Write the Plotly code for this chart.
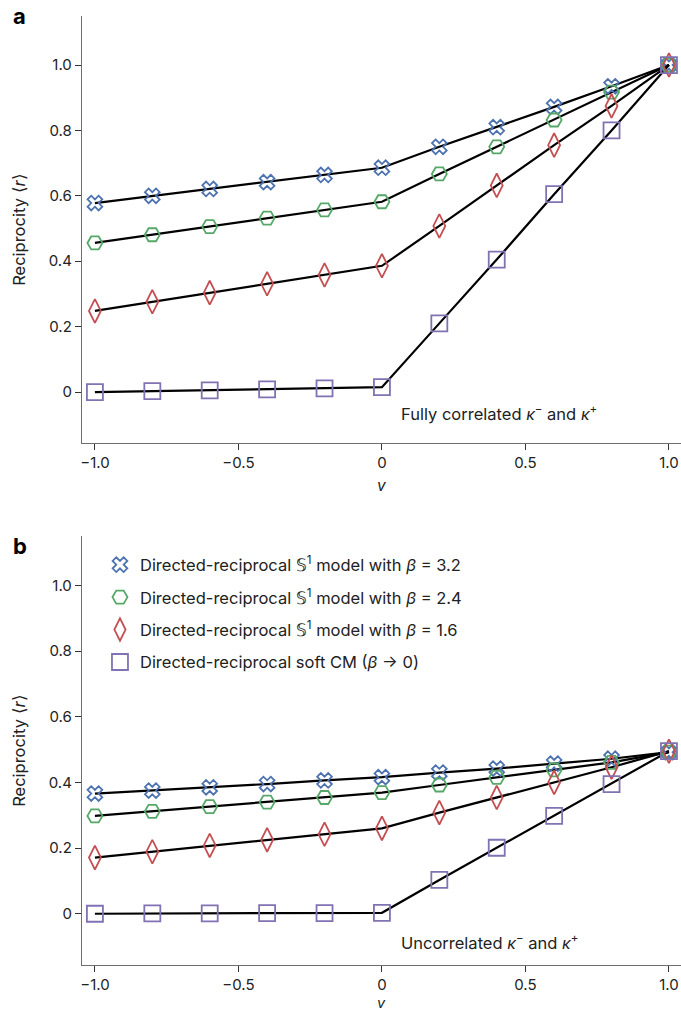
import plotly.graph_objects as go

v = [-1.0, -0.8, -0.6, -0.4, -0.2, 0.0, 0.2, 0.4, 0.6, 0.8, 1.0]

# Panel a: fully correlated
a_b32 = [0.578, 0.600, 0.621, 0.642, 0.664, 0.686, 0.750, 0.810, 0.872, 0.935, 1.0]
a_b24 = [0.456, 0.481, 0.506, 0.532, 0.557, 0.582, 0.667, 0.750, 0.832, 0.917, 1.0]
a_b16 = [0.248, 0.276, 0.304, 0.331, 0.358, 0.386, 0.508, 0.632, 0.755, 0.875, 1.0]
a_cm = [0.000, 0.003, 0.005, 0.008, 0.011, 0.015, 0.210, 0.405, 0.605, 0.800, 1.0]

# Panel b: uncorrelated
b_b32 = [0.366, 0.375, 0.385, 0.395, 0.406, 0.416, 0.430, 0.442, 0.457, 0.472, 0.492]
b_b24 = [0.298, 0.312, 0.326, 0.340, 0.354, 0.369, 0.392, 0.415, 0.438, 0.461, 0.492]
b_b16 = [0.171, 0.189, 0.208, 0.225, 0.242, 0.260, 0.308, 0.354, 0.400, 0.446, 0.495]
b_cm = [0.000, 0.001, 0.001, 0.002, 0.002, 0.003, 0.103, 0.201, 0.298, 0.395, 0.495]

names = ["Directed-reciprocal 𝕊<sup>1</sup> model with <i>β</i> = 3.2",
         "Directed-reciprocal 𝕊<sup>1</sup> model with <i>β</i> = 2.4",
         "Directed-reciprocal 𝕊<sup>1</sup> model with <i>β</i> = 1.6",
         "Directed-reciprocal soft CM (<i>β</i> → 0)"]
colors = ["#4c72b0", "#55a868", "#c44e52", "#8172b2"]
symbols = ["x-open", "hexagon2-open", "diamond-tall-open", "square-open"]
sizes = [13, 15, 17, 16]

x_ticks = [-1.0, -0.5, 0, 0.5, 1.0]
x_labels = ["−1.0", "−0.5", "0", "0.5", "1.0"]
y_ticks = [0, 0.2, 0.4, 0.6, 0.8, 1.0]
y_labels = ["0", "0.2", "0.4", "0.6", "0.8", "1.0"]

FONT = "Inter"
TXT = 16.5
fig = go.Figure()

panels = [("x", "y", [a_b32, a_b24, a_b16, a_cm]),
          ("x2", "y2", [b_b32, b_b24, b_b16, b_cm])]

for xa, ya, series in panels:
    for s in series:
        fig.add_trace(go.Scatter(x=v, y=s, mode="lines", xaxis=xa, yaxis=ya,
                                 line=dict(color="black", width=2.2),
                                 showlegend=False, hoverinfo="skip"))
for pi, (xa, ya, series) in enumerate(panels):
    for i, s in enumerate(series):
        fig.add_trace(go.Scatter(x=v, y=s, mode="markers", xaxis=xa, yaxis=ya,
                                 name=names[i], legendgroup="g%d" % i,
                                 marker=dict(symbol=symbols[i], size=sizes[i],
                                             color=colors[i],
                                             line=dict(color=colors[i], width=1.8)),
                                 showlegend=(pi == 1)))

axis_common = dict(showgrid=False, zeroline=False, showline=True,
                   linecolor="#6e6e6e", linewidth=1.3, ticks="outside",
                   ticklen=6, tickwidth=1.2, tickcolor="#333",
                   tickfont=dict(family=FONT, size=15, color="#222"))

xrange = [-1.045, 1.042]
yrange = [-0.156, 1.15]

fig.update_layout(
    width=681, height=1010,
    margin=dict(l=82, r=0, t=16, b=45),
    paper_bgcolor="white", plot_bgcolor="white",
    font=dict(family=FONT, color="#222"),
    xaxis=dict(domain=[0, 1], anchor="y", range=xrange, tickvals=x_ticks,
               ticktext=x_labels, **axis_common),
    yaxis=dict(domain=[0.550, 1.0], anchor="x", range=yrange, tickvals=y_ticks,
               ticktext=y_labels,
               title=dict(text="Reciprocity ⟨<i>r</i>⟩", font=dict(family=FONT, size=TXT), standoff=18),
               **axis_common),
    xaxis2=dict(domain=[0, 1], anchor="y2", range=xrange, tickvals=x_ticks,
                ticktext=x_labels, **axis_common),
    yaxis2=dict(domain=[0, 0.452], anchor="x2", range=yrange, tickvals=y_ticks,
                ticktext=y_labels,
                title=dict(text="Reciprocity ⟨<i>r</i>⟩", font=dict(family=FONT, size=TXT), standoff=18),
                **axis_common),
    legend=dict(x=0.03, y=0.44, xanchor="left", yanchor="top",
                bgcolor="rgba(0,0,0,0)", font=dict(family=FONT, size=TXT, color="#222"),
                tracegroupgap=8, itemwidth=30),
)

# x-axis titles
fig.add_annotation(text="<i>v</i>", xref="x", yref="paper", x=0, y=(965 - 486) / 949,
                   xanchor="center", yanchor="middle", showarrow=False,
                   font=dict(family=FONT, size=15.5, color="#222"))
fig.add_annotation(text="<i>v</i>", xref="x2", yref="paper", x=0, y=(965 - 1002) / 949,
                   xanchor="center", yanchor="middle", showarrow=False,
                   font=dict(family=FONT, size=14.5, color="#222"))

fig.add_annotation(text="<b>a</b>", xref="paper", yref="paper", x=(11 - 82) / 599, y=1.0,
                   xanchor="left", yanchor="middle", showarrow=False, yshift=0,
                   font=dict(family=FONT, size=22, color="black"))
fig.add_annotation(text="<b>b</b>", xref="paper", yref="paper", x=(11 - 82) / 599, y=0.452,
                   xanchor="left", yanchor="middle", showarrow=False, yshift=-10,
                   font=dict(family=FONT, size=22, color="black"))
fig.add_annotation(text="Fully correlated <i>κ</i><sup>−</sup> and <i>κ</i><sup>+</sup>",
                   xref="x", yref="y", x=0.06, y=-0.065, xanchor="left",
                   showarrow=False, font=dict(family=FONT, size=TXT, color="#222"))
fig.add_annotation(text="Uncorrelated <i>κ</i><sup>−</sup> and <i>κ</i><sup>+</sup>",
                   xref="x2", yref="y2", x=0.06, y=-0.085, xanchor="left",
                   showarrow=False, font=dict(family=FONT, size=TXT, color="#222"))

fig.write_html("out.html", post_script="document.body.style.margin='0';",
               config={"displayModeBar": False})
